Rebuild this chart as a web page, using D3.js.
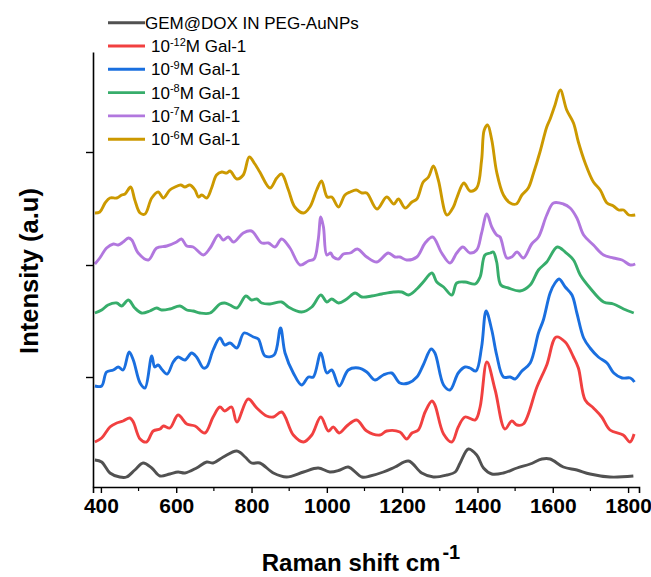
<!DOCTYPE html>
<html>
<head>
<meta charset="utf-8">
<script src="https://cdn.jsdelivr.net/npm/d3@7"></script>
<style>
  body { margin: 0; background: #fff; }
  #graphicContainer { width: 651px; height: 577px; }
  text { font-family: "Liberation Sans", Arial, sans-serif; }
</style>
</head>
<body>
<div id="graphicContainer"></div>
<script>

// spectra as [Raman shift (cm-1), intensity (a.u., stacked as plotted)]
var gemDox = [[384,27],[402,25],[424,14],[450,10],[468,10],[490,17],[512,24],[535,19],[557,11],[583,13],[605,15],[623,14],[654,19],[681,25],[698,24],[725,30],[761,36],[783,30],[800,24],[822,24],[858,14],[893,10],[938,15],[977,19],[1008,15],[1035,17],[1057,20],[1093,10],[1115,11],[1150,15],[1181,20],[1217,26],[1252,14],[1283,10],[1319,12],[1341,15],[1354,24],[1376,38],[1398,32],[1416,19],[1438,13],[1469,14],[1505,19],[1540,23],[1571,28],[1593,28],[1628,20],[1664,17],[1699,13],[1752,10],[1814,11]]

var gal12 = [[384,45],[402,49],[424,60],[442,64],[459,66],[477,69],[486,65],[504,48],[521,45],[539,56],[557,58],[566,61],[583,59],[605,72],[628,63],[650,61],[676,54],[698,70],[716,80],[729,76],[747,80],[761,65],[791,88],[814,79],[840,71],[858,70],[880,75],[911,52],[938,45],[960,52],[984,70],[1004,56],[1017,60],[1033,54],[1053,61],[1079,67],[1106,56],[1141,52],[1159,56],[1194,55],[1212,48],[1226,54],[1243,57],[1261,75],[1279,86],[1287,82],[1310,53],[1332,45],[1349,60],[1367,70],[1394,67],[1407,80],[1425,125],[1447,97],[1473,58],[1491,66],[1505,62],[1522,63],[1558,100],[1584,122],[1609,150],[1633,145],[1655,130],[1668,119],[1686,87],[1708,79],[1730,70],[1752,57],[1787,52],[1805,45],[1816,53]]

var gal9 = [[384,101],[402,101],[415,115],[433,117],[446,120],[459,117],[475,135],[486,127],[504,104],[517,99],[535,131],[543,120],[552,122],[561,118],[576,113],[592,125],[605,130],[623,127],[641,134],[654,130],[672,119],[681,120],[698,137],[716,149],[729,142],[743,144],[761,139],[780,154],[805,150],[818,148],[836,131],[860,132],[877,159],[889,134],[911,114],[933,102],[951,110],[964,110],[984,134],[1000,114],[1013,117],[1033,101],[1057,117],[1084,119],[1106,115],[1128,107],[1150,112],[1172,114],[1194,104],[1217,104],[1239,110],[1256,122],[1277,138],[1287,134],[1310,102],[1327,97],[1349,114],[1367,120],[1380,119],[1396,116],[1411,140],[1423,176],[1438,157],[1451,132],[1469,110],[1487,110],[1500,108],[1518,116],[1540,124],[1562,154],[1575,167],[1593,194],[1606,204],[1617,208],[1633,200],[1651,192],[1664,174],[1682,149],[1699,139],[1721,130],[1744,124],[1762,114],[1784,109],[1806,109],[1817,105]]

var gal8 = [[384,174],[402,177],[419,182],[442,184],[455,181],[473,187],[490,179],[508,174],[530,176],[548,179],[561,177],[583,178],[610,181],[628,177],[645,176],[663,174],[690,174],[716,183],[729,184],[743,182],[761,179],[785,191],[800,187],[814,188],[827,184],[849,183],[880,185],[898,180],[933,175],[960,180],[984,192],[1000,185],[1013,188],[1031,184],[1053,188],[1075,194],[1093,190],[1119,191],[1146,193],[1177,195],[1199,195],[1217,192],[1239,198],[1256,205],[1279,214],[1292,205],[1310,200],[1332,192],[1345,204],[1367,205],[1394,203],[1407,210],[1420,232],[1434,234],[1442,235],[1451,225],[1462,202],[1482,199],[1513,196],[1540,202],[1562,217],[1584,225],[1612,240],[1633,235],[1655,227],[1673,212],[1699,199],[1735,185],[1761,183],[1788,178],[1815,174]]

var gal7 = [[384,223],[397,229],[415,239],[433,243],[446,242],[459,245],[473,249],[482,247],[499,234],[526,227],[548,239],[575,241],[601,245],[614,248],[628,241],[645,240],[672,232],[690,239],[712,252],[725,247],[738,250],[752,245],[778,254],[800,256],[827,244],[845,244],[862,240],[880,248],[902,239],[929,222],[951,226],[966,228],[977,247],[984,270],[991,260],[1000,232],[1010,234],[1017,230],[1031,228],[1044,233],[1062,234],[1081,238],[1106,230],[1133,225],[1163,234],[1181,230],[1194,230],[1212,227],[1239,230],[1261,244],[1281,250],[1305,234],[1327,224],[1345,234],[1361,240],[1380,234],[1398,237],[1411,254],[1425,273],[1438,260],[1451,252],[1460,250],[1478,229],[1491,230],[1505,235],[1522,229],[1544,243],[1562,250],[1584,272],[1602,284],[1628,283],[1646,279],[1664,269],[1682,252],[1708,242],[1735,232],[1761,229],[1784,227],[1806,222],[1819,223]]

var gal6 = [[384,274],[397,275],[411,284],[424,289],[442,289],[455,292],[464,293],[479,300],[490,287],[504,274],[517,273],[535,289],[552,295],[566,289],[583,297],[597,300],[612,302],[623,300],[636,302],[650,297],[659,290],[668,292],[681,289],[694,299],[707,312],[721,315],[734,314],[743,316],[761,308],[778,312],[794,330],[809,323],[822,315],[849,299],[867,309],[880,313],[898,297],[915,280],[938,274],[955,280],[973,297],[986,306],[1001,290],[1013,290],[1031,280],[1048,292],[1062,295],[1078,297],[1093,294],[1106,294],[1133,278],[1159,290],[1178,283],[1190,288],[1208,279],[1226,285],[1239,288],[1256,305],[1270,310],[1283,321],[1296,307],[1319,272],[1336,280],[1345,289],[1364,304],[1380,296],[1398,299],[1411,327],[1418,357],[1427,362],[1438,347],[1451,315],[1469,292],[1487,284],[1503,283],[1518,292],[1535,299],[1549,314],[1566,335],[1584,360],[1593,368],[1606,382],[1620,397],[1637,377],[1655,364],[1668,345],[1686,324],[1708,305],[1726,297],[1744,284],[1761,281],[1775,277],[1788,277],[1802,272],[1819,272]]

// legend: [main text, superscript, tail]
var seriesLabels = [["GEM@DOX IN PEG-AuNPs", "", ""], ["10", "-12", "M Gal-1"], ["10", "-9", "M Gal-1"], ["10", "-8", "M Gal-1"], ["10", "-7", "M Gal-1"], ["10", "-6", "M Gal-1"]]
var seriesColours = ["#515151", "#F14040", "#1A6FDF", "#37AD6B", "#B177DE", "#CC9900"]
var seriesData = [gemDox, gal12, gal9, gal8, gal7, gal6]

var xDomain = [379, 1829]
var xMajorTicks = [400, 600, 800, 1000, 1200, 1400, 1600, 1800]
var xMinorTicks = [500, 700, 900, 1100, 1300, 1500, 1700]
var yDomain = [0, 435]
var yTicks = [110, 222, 335]

var width = 651, height = 577
var margin = { top: 52, right: 12, bottom: 90, left: 93 }

var svg = d3.select("#graphicContainer").append("svg")
  .attr("width", width)
  .attr("height", height)

var x = d3.scaleLinear()
  .domain(xDomain)
  .range([margin.left, width - margin.right])

var y = d3.scaleLinear()
  .domain(yDomain)
  .range([height - margin.bottom, margin.top])

var line = d3.line()
  .x(d => x(d[0]))
  .y(d => y(d[1]))
  .curve(d3.curveCatmullRom.alpha(0.5))

svg.append("g")
  .selectAll("path")
  .data(seriesData)
  .enter()
  .append("path")
  .attr("d", d => line(d))
  .attr("fill", "none")
  .attr("stroke", (d, i) => seriesColours[i])
  .attr("stroke-width", 2.9)
  .attr("stroke-linejoin", "round")

// x axis
var xAxisG = svg.append("g")
  .attr("transform", `translate(0,${y(0)})`)
  .call(d3.axisBottom(x).tickValues(xMajorTicks).tickSize(6).tickPadding(5).tickFormat(d3.format("d")))

xAxisG.select(".domain").attr("stroke", "#000").attr("stroke-width", 1.6)
xAxisG.selectAll(".tick line").attr("stroke", "#000").attr("stroke-width", 1.4)
xAxisG.selectAll(".tick text")
  .attr("font-size", 21)
  .attr("font-weight", "bold")
  .attr("fill", "#000")
  .attr("font-family", '"Liberation Sans", Arial, sans-serif')

svg.append("g")
  .selectAll("line")
  .data(xMinorTicks)
  .enter()
  .append("line")
  .attr("x1", d => x(d))
  .attr("x2", d => x(d))
  .attr("y1", y(0))
  .attr("y2", y(0) + 4)
  .attr("stroke", "#000")
  .attr("stroke-width", 1.2)

// y axis, no labels
var yAxisG = svg.append("g")
  .attr("transform", `translate(${margin.left},0)`)
  .call(d3.axisLeft(y).tickValues(yTicks).tickSize(7).tickFormat("").tickSizeOuter(0))

yAxisG.select(".domain").attr("stroke", "#000").attr("stroke-width", 1.6)
yAxisG.selectAll(".tick line").attr("stroke", "#000").attr("stroke-width", 1.4)

// axis titles
var xTitle = svg.append("text")
  .attr("x", 361)
  .attr("y", 571)
  .attr("text-anchor", "middle")
  .attr("font-size", 24)
  .attr("font-weight", "bold")
  .attr("fill", "#000")

xTitle.append("tspan").text("Raman shift cm")
xTitle.append("tspan").attr("dx", 2).attr("dy", -12).attr("font-size", 20).text("-1")

svg.append("text")
  .attr("transform", "translate(38,271) rotate(-90)")
  .attr("text-anchor", "middle")
  .attr("font-size", 25.5)
  .attr("font-weight", "bold")
  .attr("fill", "#000")
  .text("Intensity (a.u)")

// legend
var legend = svg.append("g")
  .selectAll("g")
  .data(seriesLabels)
  .enter()
  .append("g")
  .attr("transform", (d, i) => `translate(108,${22.7 + i * 23.3})`)

legend.append("line")
  .attr("x1", 0)
  .attr("x2", 37)
  .attr("stroke", (d, i) => seriesColours[i])
  .attr("stroke-width", 2.9)

var legendText = legend.append("text")
  .attr("x", (d, i) => i === 0 ? 37 : 43)
  .attr("y", 6)
  .attr("font-size", 17)
  .attr("fill", "#000")

legendText.append("tspan").text(d => d[0])
legendText.filter(d => d[1] !== "").append("tspan")
  .attr("dy", -6.5)
  .attr("font-size", 11)
  .text(d => d[1])
legendText.filter(d => d[1] !== "").append("tspan")
  .attr("dy", 6.5)
  .text(d => d[2])

</script>
</body>
</html>
